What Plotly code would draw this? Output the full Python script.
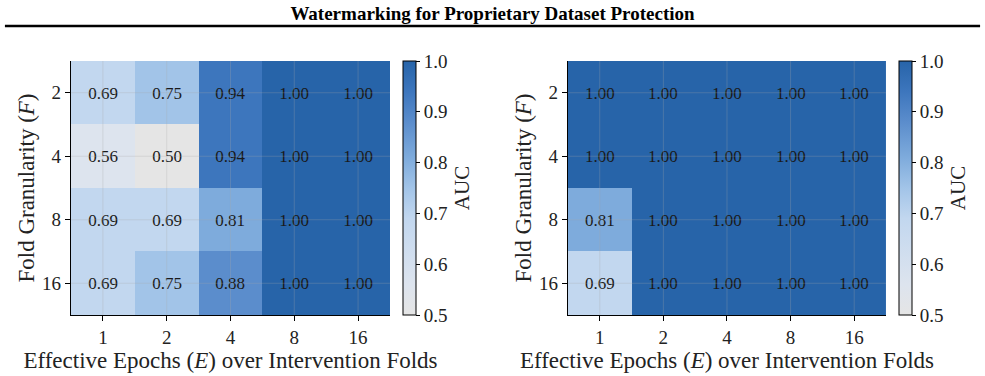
import plotly.graph_objects as go

title_text = "Watermarking for Proprietary Dataset Protection"
epochs = ["1", "2", "4", "8", "16"]
folds = ["2", "4", "8", "16"]
auc_left = [
    [0.69, 0.75, 0.94, 1.00, 1.00],
    [0.56, 0.50, 0.94, 1.00, 1.00],
    [0.69, 0.69, 0.81, 1.00, 1.00],
    [0.69, 0.75, 0.88, 1.00, 1.00],
]
auc_right = [
    [1.00, 1.00, 1.00, 1.00, 1.00],
    [1.00, 1.00, 1.00, 1.00, 1.00],
    [0.81, 1.00, 1.00, 1.00, 1.00],
    [0.69, 1.00, 1.00, 1.00, 1.00],
]
cbar_ticks = [0.5, 0.6, 0.7, 0.8, 0.9, 1.0]

SERIF = "'Liberation Serif', 'DejaVu Serif', serif"
colorscale = [
    [0.00, "#e5e5e5"],
    [0.12, "#dde4ee"],
    [0.38, "#c2d7ef"],
    [0.50, "#a2c4e8"],
    [0.62, "#7eabdc"],
    [0.76, "#5b8dcc"],
    [0.88, "#3d76bd"],
    [1.00, "#2764a9"],
]

fig = go.Figure()

panels = [
    (auc_left, "x", "y", [0.0721, 0.3959], 0.409),
    (auc_right, "x2", "y2", [0.5766, 0.8995], 0.913),
]
ydom = [0.1622, 0.8378]

for i, (z, xa, ya, xdom, cbx) in enumerate(panels):
    txt = [[f"{v:.2f}" for v in row] for row in z]
    fig.add_trace(go.Heatmap(
        z=z, x=epochs, y=folds, xaxis=xa, yaxis=ya,
        zmin=0.5, zmax=1.0, colorscale=colorscale,
        text=txt, texttemplate="%{text}",
        textfont=dict(family=SERIF, size=17, color="#1a1a1a"),
        xgap=0, ygap=0, hoverinfo="skip",
        colorbar=dict(
            x=cbx, xanchor="left", y=sum(ydom) / 2, yanchor="middle",
            len=ydom[1] - ydom[0], lenmode="fraction", thickness=13,
            outlinecolor="black", outlinewidth=1,
            tickvals=cbar_ticks, ticktext=[f"{t:.1f}" for t in cbar_ticks],
            ticks="outside", ticklen=4, tickcolor="black",
            tickfont=dict(family=SERIF, size=19, color="#222"),
            title=dict(text="AUC", side="right",
                       font=dict(family=SERIF, size=21, color="#222")),
            xpad=0, ypad=0,
        ),
    ))
    # faint grid lines above the heatmap at category centers
    for k in range(len(epochs)):
        fig.add_shape(type="line", xref=xa, yref=ya + " domain", x0=k, x1=k, y0=0, y1=1,
                      line=dict(color="rgba(170,170,170,0.28)", width=1), layer="above")
    for k in range(len(folds)):
        fig.add_shape(type="line", xref=xa + " domain", yref=ya, x0=0, x1=1, y0=k, y1=k,
                      line=dict(color="rgba(170,170,170,0.28)", width=1), layer="above")

axis_common = dict(
    showline=True, linecolor="black", linewidth=1.2, mirror=False,
    ticks="outside", ticklen=5, tickcolor="black",
    tickfont=dict(family=SERIF, size=19, color="#222"),
    showgrid=False, zeroline=False, type="category",
)
xtitle = dict(text="Effective Epochs (<i>E</i>) over Intervention Folds",
              font=dict(family=SERIF, size=23, color="#222"), standoff=2)
ytitle = dict(text="Fold Granularity (<i>F</i>)",
              font=dict(family=SERIF, size=23, color="#222"), standoff=1)

fig.update_layout(
    width=985, height=376,
    margin=dict(l=0, r=0, t=0, b=0),
    font=dict(family=SERIF, color="#222"),
    paper_bgcolor="white", plot_bgcolor="white",
    xaxis=dict(domain=panels[0][3], anchor="y", title=xtitle, **axis_common),
    yaxis=dict(domain=ydom, anchor="x", autorange="reversed", title=ytitle, **axis_common),
    xaxis2=dict(domain=panels[1][3], anchor="y2", title=xtitle, **axis_common),
    yaxis2=dict(domain=ydom, anchor="x2", autorange="reversed", title=ytitle, **axis_common),
    title=dict(text="<b>" + title_text + "</b>", x=0.5, xanchor="center",
               y=1 - 13 / 376, yanchor="middle", yref="paper",
               font=dict(family=SERIF, size=19, color="black")),
    showlegend=False,
)

fig.add_shape(type="line", xref="paper", yref="paper", x0=0.005, x1=0.995,
              y0=1 - 26 / 376, y1=1 - 26 / 376, line=dict(color="black", width=2.5))

fig.write_html("out.html")
